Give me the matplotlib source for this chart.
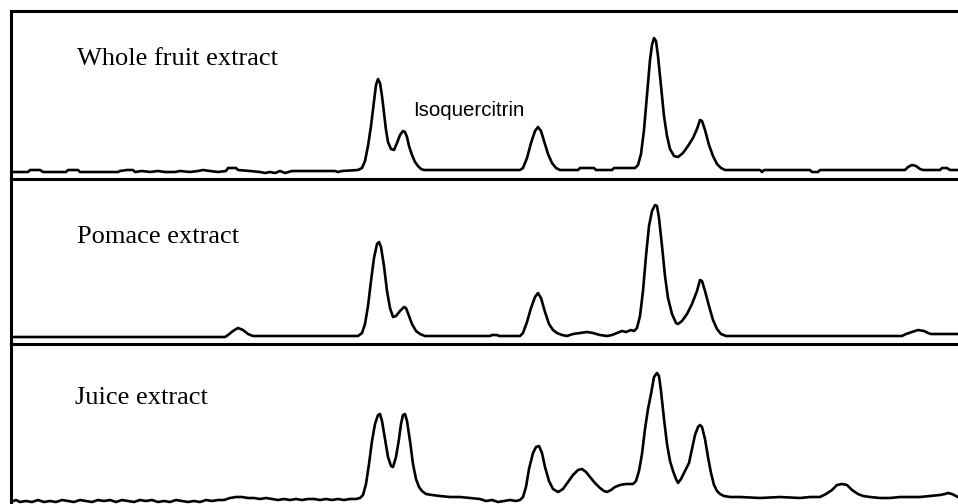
"""
HPLC chromatograms of whole fruit, pomace and juice extracts.
"""
import matplotlib

matplotlib.use("Agg")
import matplotlib.pyplot as plt

# Retention axis in the units of the original trace (0..958), signal above baseline
whole_t = [11, 28, 30, 40, 43, 66, 68, 78, 80, 118, 120, 127, 133, 135, 142, 150,
           158, 165, 175, 180, 190, 198, 203, 210, 218, 226, 228, 236, 238, 250,
           260, 265, 270, 275, 280, 285, 292, 300, 335, 338, 342, 358, 362, 365,
           368, 371, 374, 376, 378, 380, 382, 384, 386, 388, 391, 394, 397, 400,
           403, 405, 407, 409, 412, 415, 418, 421, 424, 520, 523, 527, 531, 535,
           538, 541, 544, 548, 552, 556, 560, 578, 580, 594, 596, 612, 614, 635,
           638, 641, 644, 647, 650, 652, 654, 656, 658, 661, 664, 667, 670, 674,
           678, 683, 688, 693, 697, 700, 702, 705, 709, 713, 717, 721, 725, 760,
           762, 764, 810, 812, 818, 820, 905, 908, 912, 916, 920, 923, 940, 942,
           947, 950, 958]
whole_s = [-2, -2, 0, 0, -2, -2, 0, 0, -2, -2, -1, 0, 0, -2, -1, -2,
           -1, -2, -2, -1, -2, -1, 0, -1, -2, -1, 2, 2, 0, -1,
           -2, -3, -2, -3, -1, -3, -1, -1, -1, -2, -1, 0, 2, 9,
           24, 44, 69, 85, 91, 87, 74, 57, 40, 28, 21, 20, 27, 35,
           39, 38, 33, 24, 15, 8, 4, 1, 0, 0, 2, 12, 27, 39,
           43, 39, 29, 16, 7, 2, 0, 0, 2, 2, 0, 0, 2, 2,
           5, 16, 40, 75, 110, 125, 132, 129, 114, 84, 54, 34, 21, 14,
           13, 17, 24, 32, 41, 50, 49, 40, 25, 14, 6, 2, 0, 0,
           -2, 0, 0, -2, -2, 0, 0, 3, 5, 4, 1, 0, 0, 2,
           2, 0, 0]

pomace_t = [11, 225, 228, 233, 238, 243, 248, 253, 358, 362, 365, 368, 371, 374,
            377, 379, 381, 384, 387, 390, 393, 396, 400, 404, 406, 409, 412, 416,
            420, 425, 490, 492, 497, 499, 520, 523, 527, 531, 535, 538, 541, 545,
            549, 553, 557, 562, 567, 573, 580, 587, 593, 600, 607, 612, 617, 622,
            626, 631, 634, 637, 640, 643, 646, 649, 652, 655, 657, 659, 662, 665,
            668, 672, 676, 678, 682, 687, 692, 697, 700, 702, 705, 709, 713, 717,
            721, 726, 902, 906, 912, 918, 924, 928, 931, 958]
pomace_s = [-1, -1, 1, 5, 8, 6, 2, 0, 0, 3, 12, 30, 55, 78,
            92, 94, 89, 70, 45, 28, 19, 20, 25, 29, 28, 20, 12, 5,
            2, 0, 0, 1, 1, 0, 0, 3, 14, 28, 39, 43, 38, 24,
            12, 6, 3, 1, 0, 2, 3, 4, 3, 1, 0, 1, 3, 5,
            4, 6, 5, 8, 20, 45, 80, 110, 125, 131, 130, 118, 90, 60,
            38, 22, 13, 12, 15, 22, 32, 45, 56, 55, 45, 30, 16, 7,
            2, 0, 0, 2, 4, 6, 5, 3, 2, 2]

juice_t = [11, 16, 20, 26, 32, 38, 44, 50, 56, 62, 68, 74, 80, 86, 92, 98, 104,
           110, 116, 122, 128, 134, 140, 146, 152, 158, 164, 170, 176, 182, 188,
           194, 200, 206, 212, 218, 224, 230, 236, 242, 248, 254, 260, 266, 272,
           278, 284, 290, 296, 302, 308, 314, 320, 326, 332, 338, 344, 350, 356,
           360, 363, 366, 369, 372, 375, 378, 380, 382, 385, 388, 391, 393, 396,
           399, 401, 403, 405, 407, 410, 413, 416, 419, 422, 426, 432, 440, 450,
           460, 470, 480, 486, 492, 498, 504, 510, 516, 520, 523, 526, 529, 533,
           536, 539, 542, 545, 549, 553, 558, 563, 568, 573, 578, 582, 586, 590,
           595, 600, 604, 607, 611, 615, 620, 626, 633, 636, 639, 642, 645, 648,
           651, 654, 657, 659, 661, 664, 667, 670, 673, 676, 678, 681, 685, 689,
           692, 695, 698, 700, 702, 705, 708, 711, 714, 717, 720, 724, 730, 740,
           760, 780, 800, 810, 820, 826, 832, 837, 842, 847, 852, 858, 863, 870,
           880, 890, 900, 910, 920, 930, 940, 945, 948, 952, 958]
juice_s = [-3, -1, -3, -2, -3, -1, -3, -2, -3, -1, -2, -3, -1, -2, -3, -1, -2,
           -1, -3, -1, -2, -3, -1, -2, -1, -3, -2, -3, -1, -2, -3,
           -2, -3, -1, -2, -1, -1, 1, 2, 2, 1, 1, 0, 1, 0,
           -1, 0, -1, 0, -1, 0, 0, -1, 0, -1, 0, -1, 0, 0,
           1, 4, 15, 35, 58, 75, 84, 85, 78, 60, 42, 33, 32, 42,
           60, 75, 84, 85, 78, 58, 35, 20, 12, 8, 5, 4, 3, 2,
           2, 1, 0, -2, -1, -3, -2, -1, -2, -1, 2, 12, 30, 46,
           52, 53, 46, 32, 18, 10, 7, 10, 17, 24, 29, 30, 27, 22,
           16, 11, 8, 7, 9, 12, 14, 15, 15, 18, 28, 45, 70, 90,
           105, 122, 126, 123, 108, 80, 55, 38, 28, 20, 16, 20, 28, 36,
           50, 64, 72, 74, 72, 60, 42, 26, 14, 8, 5, 3, 2, 2,
           1, 2, 1, 2, 2, 5, 9, 14, 15, 14, 9, 5, 3, 2,
           1, 1, 2, 2, 2, 3, 4, 5, 6, 5, 2]

labels = ["Whole fruit extract", "Pomace extract", "Juice extract"]
traces = [(whole_t, whole_s), (pomace_t, pomace_s), (juice_t, juice_s)]

W, H = 958, 504
# panel edges (top, bottom) and baseline offset in pixels
panels = [(11, 179, 9), (179, 344, 8), (344, 504, 5)]
label_pos = [(77, 105), (77, 93), (75, 95)]

fig = plt.figure(figsize=(W / 100, H / 100), dpi=100)

for i, (top, bottom, base) in enumerate(panels):
    ax = fig.add_axes([11 / W, 1 - bottom / H, 1 - 11 / W, (bottom - top) / H])
    ax.patch.set_visible(False)
    t, s = traces[i]
    ax.plot(t, s, color="black", lw=1.9, solid_joinstyle="round")
    ax.set_xlim(11, 958)
    ax.set_ylim(-base, bottom - top - base)
    ax.set_xticks([])
    ax.set_yticks([])
    for side in ["top", "bottom", "left", "right"]:
        ax.spines[side].set_linewidth(2.2)
    ax.spines["right"].set_visible(False)
    if i > 0:
        ax.spines["top"].set_visible(False)
    if i == 2:
        ax.spines["bottom"].set_visible(False)
    ax.text(label_pos[i][0], label_pos[i][1], labels[i], family="Liberation Serif",
            fontsize=19, va="baseline", ha="left")
    if i == 0:
        ax.text(413, 54, "Isoquercitrin", family="Liberation Sans", fontsize=14.8,
                va="baseline", ha="left")

fig.savefig("out.png", dpi=100)
